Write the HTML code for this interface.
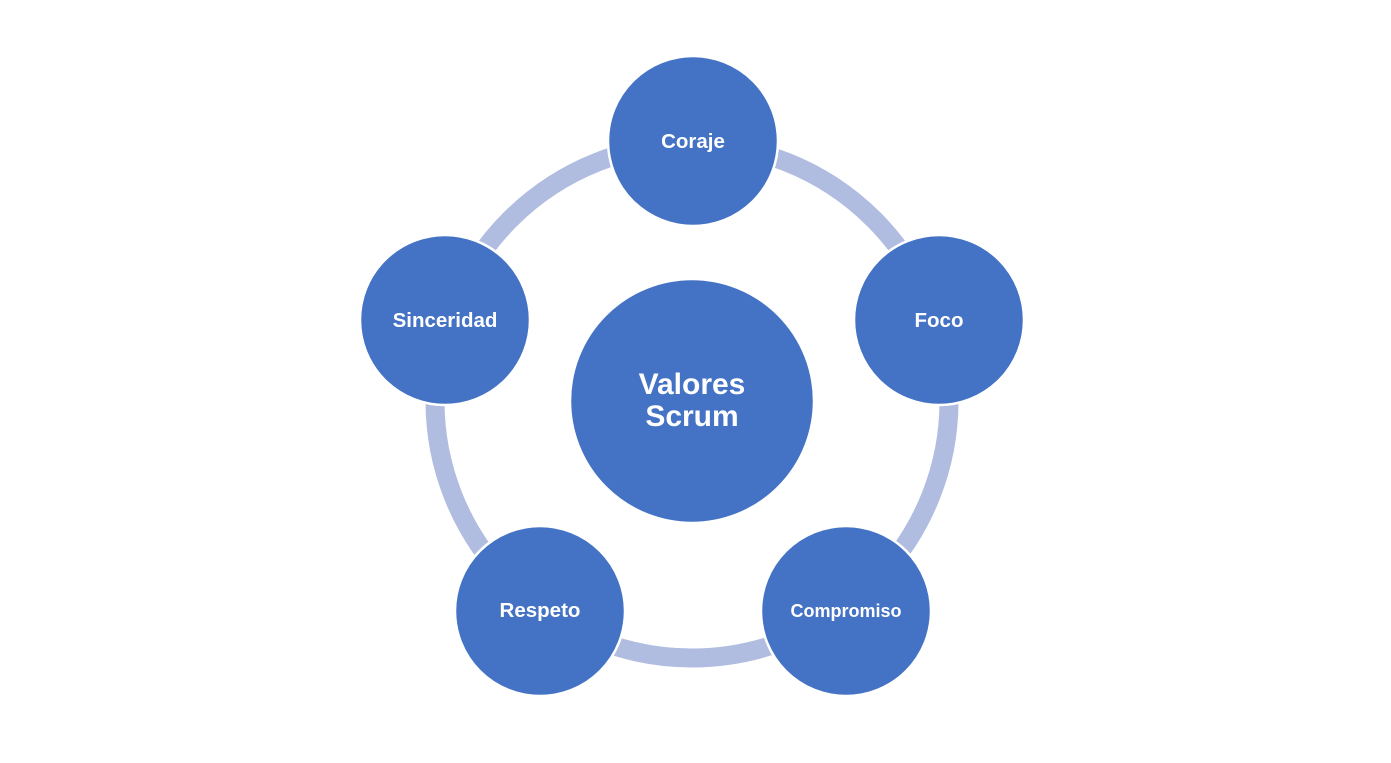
<!DOCTYPE html>
<html><head><meta charset="utf-8"><style>
html,body{margin:0;padding:0;background:#fff;}
svg{display:block;}
text{font-family:"Liberation Sans",Arial,sans-serif;font-weight:bold;fill:#fff;text-anchor:middle;}
</style></head><body>
<svg width="1391" height="763" viewBox="0 0 1391 763" xmlns="http://www.w3.org/2000/svg">
<rect width="1391" height="763" fill="#fff"/>
<circle cx="692" cy="401" r="257" fill="none" stroke="#b0bde0" stroke-width="19"/>
<g fill="#4472c4" stroke="#fff" stroke-width="2.5">
<circle cx="692" cy="401" r="122"/>
<circle cx="693" cy="141" r="85"/>
<circle cx="939" cy="320" r="85"/>
<circle cx="846" cy="611" r="85"/>
<circle cx="540" cy="611" r="85"/>
<circle cx="445" cy="320" r="85"/>
</g>
<text x="692" y="394" font-size="30">Valores</text>
<text x="692" y="426" font-size="30">Scrum</text>
<text x="693" y="148" font-size="20.5">Coraje</text>
<text x="939" y="327" font-size="20.5">Foco</text>
<text x="846" y="617" font-size="18">Compromiso</text>
<text x="540" y="617" font-size="20.5">Respeto</text>
<text x="445" y="327" font-size="20.5">Sinceridad</text>
</svg>
</body></html>
